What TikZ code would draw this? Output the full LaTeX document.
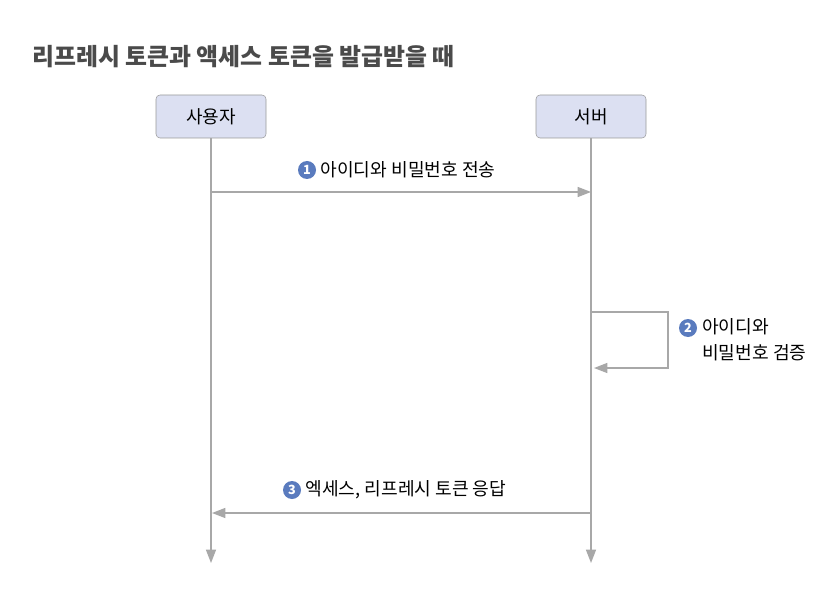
\documentclass[tikz,border=0pt]{standalone}
\usepackage{fontspec}
\setmainfont{Noto Sans CJK KR}
\usetikzlibrary{arrows.meta,positioning}
\definecolor{boxfill}{HTML}{DCE0F2}
\definecolor{boxline}{HTML}{9A9A9A}
\definecolor{flowline}{HTML}{A8A8A8}
\definecolor{stepblue}{HTML}{5A7BBE}
\definecolor{titlegray}{HTML}{4A4A4A}
\tikzset{
  actor/.style={draw=boxline, fill=boxfill, rounded corners=3pt,
    minimum width=82.5pt, minimum height=32.25pt,
    font=\fontsize{13.5}{16}\selectfont},
  flow/.style={draw=flowline, line width=1pt,
    -{Triangle[length=10pt,width=7.5pt]}},
  stepnum/.style={circle, fill=stepblue, text=white, inner sep=0pt,
    minimum size=13.5pt, font=\bfseries\fontsize{9.5}{9.5}\selectfont},
  msg/.style={inner sep=0pt, font=\fontsize{13.6}{20}\selectfont}
}
\begin{document}
\begin{tikzpicture}[x=0.75pt, y=-0.75pt]
  \useasboundingbox (0,0) rectangle (837,598);
  \node[anchor=west, inner sep=0pt, text=titlegray,
    font=\bfseries\fontsize{17.9}{20}\selectfont] (title) at (32,57)
    {리프레시 토큰과 액세스 토큰을 발급받을 때};
  % actors and lifelines
  \node[actor] (user) at (211,116.5) {사용자};
  \node[actor] (server) at (591,116.5) {서버};
  \coordinate (userend) at (211,563);
  \coordinate (serverend) at (591,563);
  \draw[flow] (user.south) -- (userend);
  \draw[flow] (server.south) -- (serverend);
  % step 1
  \coordinate (m1a) at (211,192);
  \coordinate (m1b) at (591,192);
  \draw[flow] (m1a) -- (m1b);
  \node[stepnum] (n1) at (307,170) {1};
  \node[msg, right=3pt of n1] (t1) {아이디와 비밀번호 전송};
  % step 2
  \coordinate (m2a) at (591,312);
  \coordinate (m2b) at (594,368);
  \draw[flow] (m2a) -- (668,312) -- (668,368) -- (m2b);
  \node[stepnum] (n2) at (688,328) {2};
  \node[msg, align=left, anchor=north west] (t2) at (702,318)
    {아이디와\\비밀번호 검증};
  % step 3
  \coordinate (m3a) at (591,513);
  \coordinate (m3b) at (212,513);
  \draw[flow] (m3a) -- (m3b);
  \node[stepnum] (n3) at (292,490) {3};
  \node[msg, right=3pt of n3] (t3) {엑세스, 리프레시 토큰 응답};
\end{tikzpicture}
\end{document}
